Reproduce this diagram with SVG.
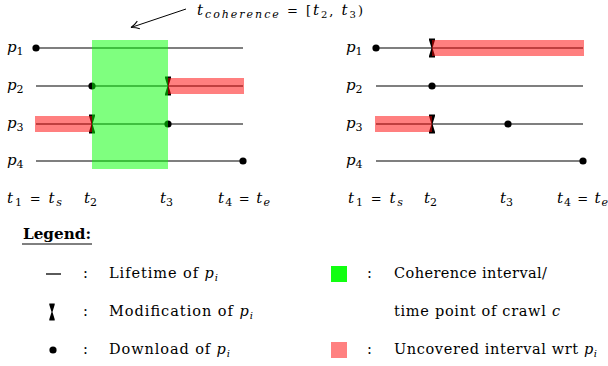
<svg xmlns="http://www.w3.org/2000/svg" width="608" height="366" viewBox="0 0 608 366">
<style>
text{font-family:"DejaVu Serif","Liberation Serif",serif;fill:#000}
.m{font-style:italic;font-size:15px}
.lg{font-size:14.5px}
.life{stroke:#000;stroke-width:1.2;fill:none}
.grn{fill:#00ff00;fill-opacity:0.5}
.red{fill:#ff0000;fill-opacity:0.5}
</style>
<defs>
<path id="mod" d="M-3,-9.5 H3 V-8 L0.5,0 L3,8 V9.5 H-3 V8 L-0.5,0 L-3,-8 Z" fill="#000"/>
<circle id="dl" r="3.6" fill="#000"/>
<marker id="arr" markerWidth="12" markerHeight="12" refX="10" refY="6" orient="auto" markerUnits="userSpaceOnUse">
<path d="M2,2 Q6,5 10,6 Q6,7 2,10" fill="none" stroke="#000" stroke-width="1"/>
</marker>
</defs>

<g id="connectors">
<line x1="186" y1="9" x2="131" y2="27.5" stroke="#000" stroke-width="1" marker-end="url(#arr)"/>
</g>
<g id="annotation">
<text x="197" y="15" class="m" textLength="166" lengthAdjust="spacing">t<tspan dy="3" font-size="11">coherence</tspan><tspan dy="-3" font-style="normal" font-size="13"> = [</tspan>t<tspan dy="3" font-size="10" font-style="normal">2</tspan><tspan dy="-3" font-style="normal" font-size="13">, </tspan>t<tspan dy="3" font-size="10" font-style="normal">3</tspan><tspan dy="-3" font-style="normal" font-size="13">)</tspan></text>
</g>

<g id="left-panel">
<g id="L-p1">
<text x="7" y="52" class="m">p<tspan dy="3" font-size="11" font-style="normal">1</tspan></text>
<line class="life" x1="36" y1="48" x2="243" y2="48"/>
<use href="#dl" x="36" y="48"/>
</g>
<g id="L-p2">
<text x="7" y="90" class="m">p<tspan dy="3" font-size="11" font-style="normal">2</tspan></text>
<line class="life" x1="36" y1="86" x2="243" y2="86"/>
<use href="#dl" x="92" y="86"/>
<use href="#mod" x="168" y="86"/>
</g>
<g id="L-p3">
<text x="7" y="128" class="m">p<tspan dy="3" font-size="11" font-style="normal">3</tspan></text>
<line class="life" x1="36" y1="124" x2="243" y2="124"/>
<use href="#mod" x="92" y="124"/>
<use href="#dl" x="168" y="124"/>
</g>
<g id="L-p4">
<text x="7" y="165" class="m">p<tspan dy="3" font-size="11" font-style="normal">4</tspan></text>
<line class="life" x1="36" y1="161" x2="243" y2="161" stroke-width="1.5" stroke="#333"/>
<use href="#dl" x="243" y="161"/>
</g>
<rect id="L-coherence" class="grn" x="92" y="40" width="76" height="129"/>
<rect class="red" x="168" y="78" width="76" height="16"/>
<rect class="red" x="35" y="116" width="57" height="16"/>
<g id="L-times">
<text x="7" y="203" class="m" textLength="55" lengthAdjust="spacing">t<tspan dy="3" font-size="11" font-style="normal">1</tspan><tspan dy="-3" font-style="normal" font-size="13"> = </tspan>t<tspan dy="3" font-size="11">s</tspan></text>
<text x="84" y="203" class="m">t<tspan dy="3" font-size="11" font-style="normal">2</tspan></text>
<text x="160" y="203" class="m">t<tspan dy="3" font-size="11" font-style="normal">3</tspan></text>
<text x="218" y="203" class="m" textLength="52" lengthAdjust="spacing">t<tspan dy="3" font-size="11" font-style="normal">4</tspan><tspan dy="-3" font-style="normal" font-size="13"> = </tspan>t<tspan dy="3" font-size="11">e</tspan></text>
</g>
</g>

<g id="right-panel">
<g id="R-p1">
<text x="346" y="52" class="m">p<tspan dy="3" font-size="11" font-style="normal">1</tspan></text>
<line class="life" x1="376" y1="48" x2="583" y2="48"/>
<use href="#dl" x="376" y="48"/>
<use href="#mod" x="432" y="48"/>
</g>
<g id="R-p2">
<text x="346" y="90" class="m">p<tspan dy="3" font-size="11" font-style="normal">2</tspan></text>
<line class="life" x1="376" y1="86" x2="583" y2="86"/>
<use href="#dl" x="432" y="86"/>
</g>
<g id="R-p3">
<text x="346" y="128" class="m">p<tspan dy="3" font-size="11" font-style="normal">3</tspan></text>
<line class="life" x1="376" y1="124" x2="583" y2="124"/>
<use href="#mod" x="432" y="124"/>
<use href="#dl" x="508" y="124"/>
</g>
<g id="R-p4">
<text x="346" y="165" class="m">p<tspan dy="3" font-size="11" font-style="normal">4</tspan></text>
<line class="life" x1="376" y1="161" x2="583" y2="161" stroke-width="1.5" stroke="#333"/>
<use href="#dl" x="583" y="161"/>
</g>
<rect class="red" x="432" y="40" width="152" height="16"/>
<rect class="red" x="375" y="116" width="57" height="16"/>
<g id="R-times">
<text x="348" y="203" class="m" textLength="55" lengthAdjust="spacing">t<tspan dy="3" font-size="11" font-style="normal">1</tspan><tspan dy="-3" font-style="normal" font-size="13"> = </tspan>t<tspan dy="3" font-size="11">s</tspan></text>
<text x="424" y="203" class="m">t<tspan dy="3" font-size="11" font-style="normal">2</tspan></text>
<text x="500" y="203" class="m">t<tspan dy="3" font-size="11" font-style="normal">3</tspan></text>
<text x="557" y="203" class="m" textLength="51" lengthAdjust="spacing">t<tspan dy="3" font-size="11" font-style="normal">4</tspan><tspan dy="-3" font-style="normal" font-size="13"> = </tspan>t<tspan dy="3" font-size="11">e</tspan></text>
</g>
</g>

<g id="legend">
<text x="23" y="239" class="lg" font-weight="bold" textLength="68" lengthAdjust="spacingAndGlyphs">Legend:</text>
<line x1="22" y1="244" x2="92" y2="244" stroke="#000" stroke-width="1"/>
<g id="leg-life">
<line x1="46" y1="274" x2="61" y2="274" stroke="#000" stroke-width="1.3"/>
<text x="83" y="278" class="lg">:</text>
<text x="109" y="278" class="lg" textLength="109" lengthAdjust="spacing">Lifetime of <tspan font-style="italic">p</tspan><tspan font-style="italic" font-size="10" dy="3">i</tspan></text>
</g>
<g id="leg-mod">
<use href="#mod" x="52" y="312" transform="translate(52 312) scale(0.9) translate(-52 -312)"/>
<text x="83" y="316" class="lg">:</text>
<text x="109" y="316" class="lg" textLength="144" lengthAdjust="spacing">Modification of <tspan font-style="italic">p</tspan><tspan font-style="italic" font-size="10" dy="3">i</tspan></text>
</g>
<g id="leg-dl">
<use href="#dl" x="53" y="350"/>
<text x="83" y="354" class="lg">:</text>
<text x="109" y="354" class="lg" textLength="121" lengthAdjust="spacing">Download of <tspan font-style="italic">p</tspan><tspan font-style="italic" font-size="10" dy="3">i</tspan></text>
</g>
<g id="leg-coh">
<rect x="331" y="266" width="16" height="16" fill="#11ff11"/>
<text x="367" y="278" class="lg">:</text>
<text x="394" y="278" class="lg" textLength="153" lengthAdjust="spacing">Coherence interval/</text>
<text x="394" y="316" class="lg" textLength="166" lengthAdjust="spacing">time point of crawl <tspan font-style="italic">c</tspan></text>
</g>
<g id="leg-unc">
<rect x="331" y="342" width="16" height="16" fill="#ff8080"/>
<text x="367" y="354" class="lg">:</text>
<text x="394" y="354" class="lg" textLength="203" lengthAdjust="spacing">Uncovered interval wrt <tspan font-style="italic">p</tspan><tspan font-style="italic" font-size="10" dy="3">i</tspan></text>
</g>
</g>
</svg>
